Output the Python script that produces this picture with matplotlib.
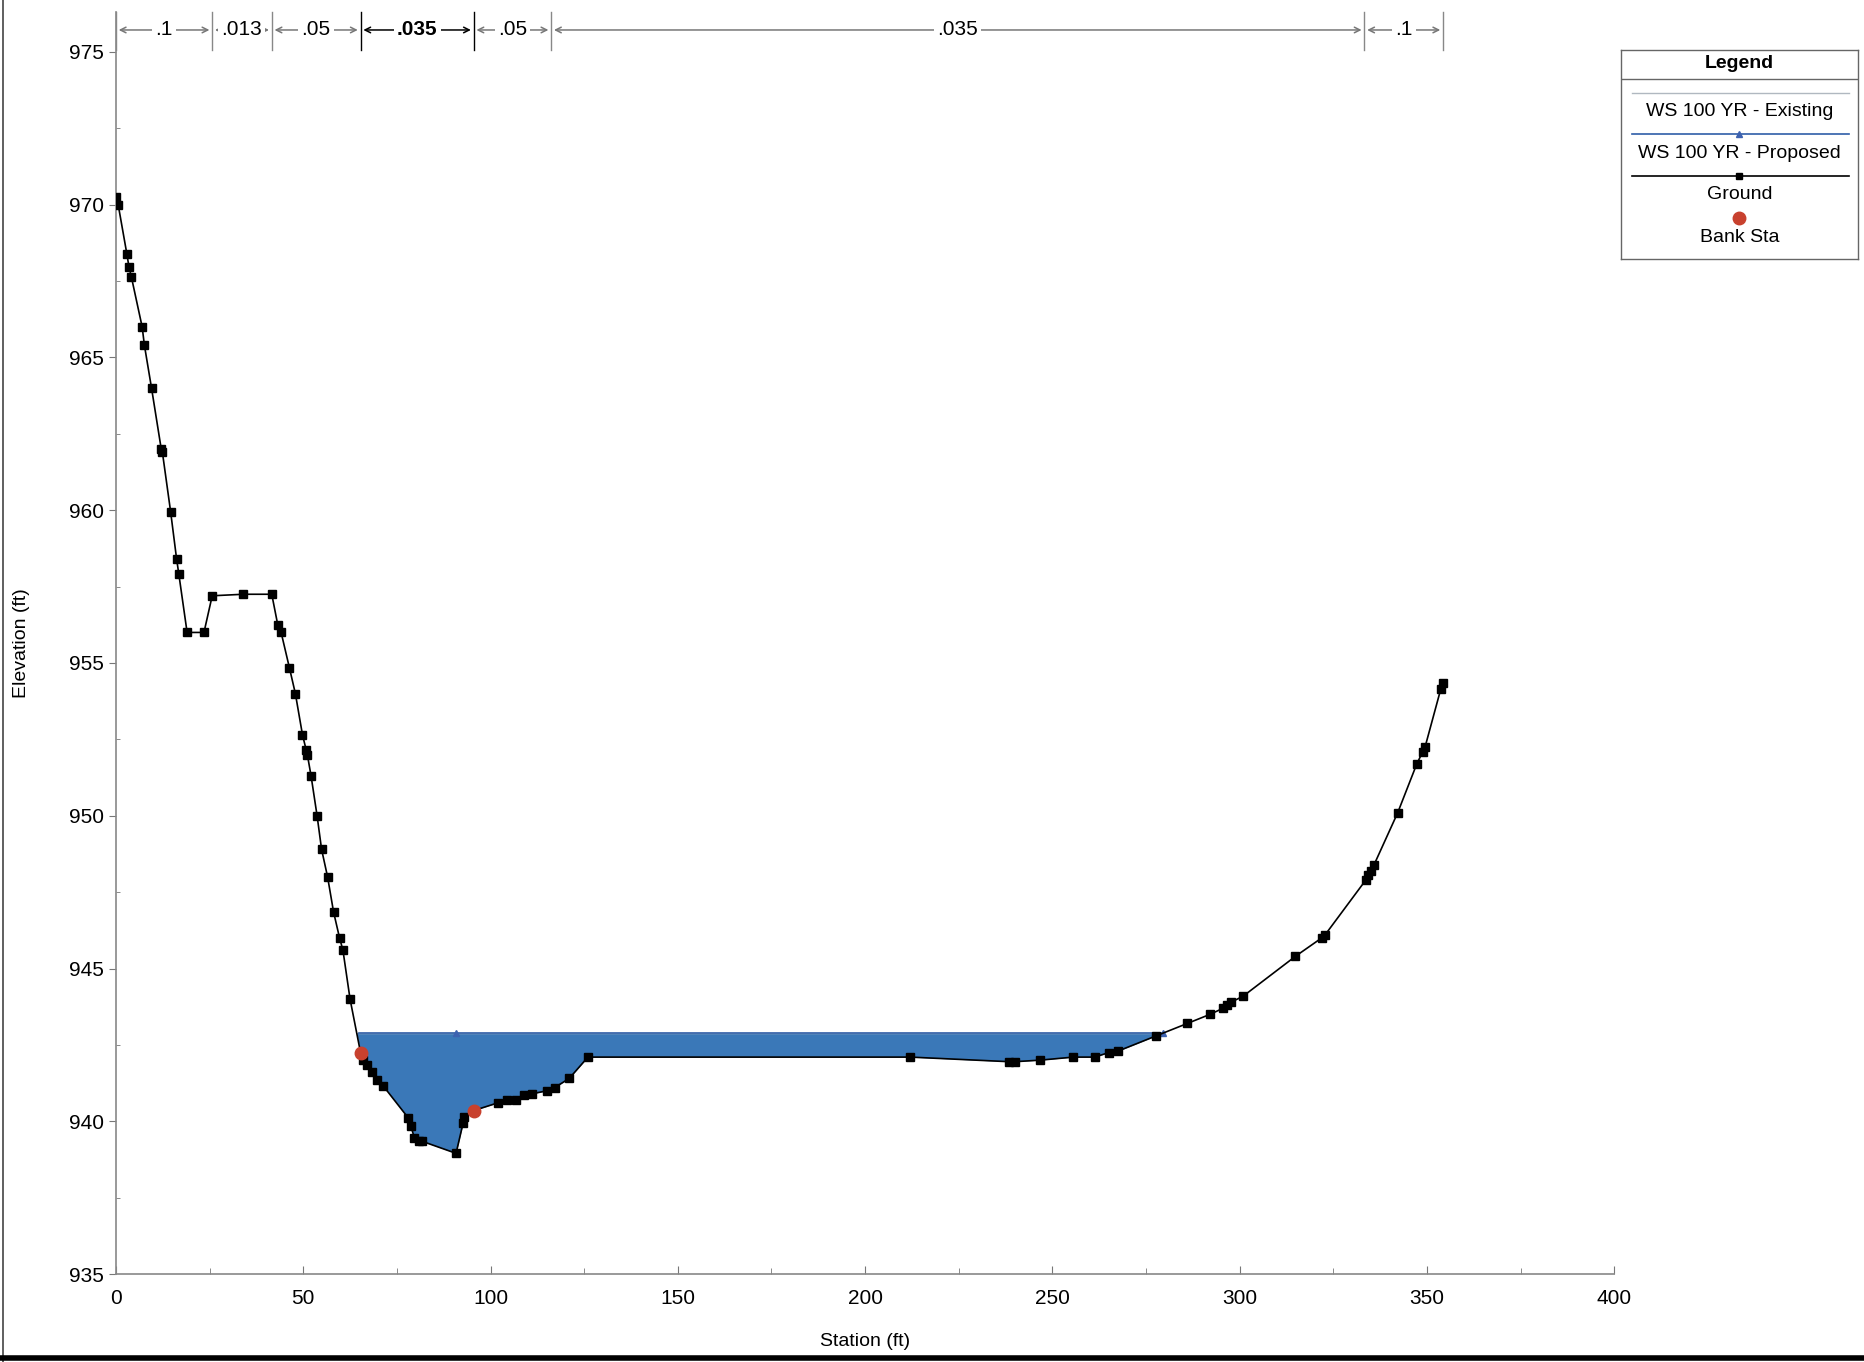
import numpy as np
import matplotlib
matplotlib.use('Agg')
from matplotlib import pyplot as plt
from matplotlib.lines import Line2D

plt.rcParams['font.family'] = ['Liberation Sans', 'DejaVu Sans']

# ground survey points (station ft, elevation ft)
ground_x = [0, 0.6, 2.9, 3.5, 4.1, 7.0, 7.6, 9.5, 12.1, 12.4,
            14.6, 16.2, 16.8, 19.0, 23.5, 25.7, 34.0, 41.6, 43.2, 44.1,
            46.3, 47.9, 49.8, 50.8, 51.1, 52.1, 53.7, 54.9, 56.5, 58.1,
            59.7, 60.6, 62.5, 65.3, 66.0, 67.0, 68.3, 69.8, 71.4, 78.1,
            78.7, 79.7, 80.9, 81.6, 90.8, 92.7, 93.0, 95.5, 101.9, 104.4,
            106.7, 108.9, 111.1, 115.2, 117.1, 121.0, 126.0, 212.1, 238.4, 240.0,
            246.7, 255.6, 261.3, 265.1, 267.6, 277.8, 286.0, 292.1, 295.6, 296.5,
            297.8, 301.0, 314.9, 321.9, 322.8, 333.7, 334.3, 335.0, 335.9, 342.2,
            347.3, 348.9, 349.5, 353.7, 354.3]
ground_y = [970.25, 970.0, 968.4, 967.95, 967.65, 966.0, 965.4, 964.0, 962.0, 961.9,
            959.95, 958.4, 957.9, 956.0, 956.0, 957.2, 957.25, 957.25, 956.25, 956.0,
            954.85, 954.0, 952.65, 952.15, 952.0, 951.3, 950.0, 948.9, 948.0, 946.85,
            946.0, 945.6, 944.0, 942.25, 942.0, 941.85, 941.6, 941.35, 941.15, 940.1,
            939.85, 939.45, 939.35, 939.35, 938.95, 939.95, 940.15, 940.35, 940.6, 940.7,
            940.7, 940.85, 940.9, 941.0, 941.1, 941.4, 942.1, 942.1, 941.95, 941.95,
            942.0, 942.1, 942.1, 942.25, 942.3, 942.8, 943.2, 943.5, 943.7, 943.8,
            943.9, 944.1, 945.4, 946.0, 946.1, 947.9, 948.05, 948.2, 948.4, 950.1,
            951.7, 952.1, 952.25, 954.15, 954.35]

bank_x = [65.3, 95.5]
bank_y = [942.25, 940.35]

ws_elev = 942.9
ws_x = [64.8, 279.5]
ws_marker_x = [90.8, 279.5]

# Manning's n breaks along the top
n_stations = [0, 25.7, 41.6, 65.3, 95.5, 116.2, 333.3, 354.3]
n_values = ['.1', '.013', '.05', '.035', '.05', '.035', '.1']

fig = plt.figure(figsize=(18.64, 13.62), dpi=100)
ax = fig.add_axes([0.0622, 0.0646, 0.8038, 0.9264])

gx = np.array(ground_x)
gy = np.array(ground_y)
ax.fill_between(gx, gy, ws_elev, where=gy <= ws_elev, interpolate=True,
                color='#3a78b8', lw=0, zorder=1)
ax.plot(ws_x, [ws_elev, ws_elev], color='#b0b8c0', lw=1, zorder=2)
ax.plot(ws_x, [ws_elev, ws_elev], color='#2f5ea8', lw=1.2, zorder=3)
ax.plot(ws_marker_x, [ws_elev] * len(ws_marker_x), ls='none', marker='^',
        color='#3d62b0', ms=5, zorder=3)
ax.plot(gx, gy, color='black', lw=1.2, marker='s', ms=5.5, zorder=4)
ax.plot(bank_x, bank_y, ls='none', marker='o', color='#c8412e', ms=9, zorder=5)

ax.set_xlim(0, 400)
ax.set_ylim(935, 976.3)
ax.set_xticks(np.arange(0, 401, 50))
ax.set_xticks(np.arange(0, 401, 25), minor=True)
ax.set_yticks(np.arange(935, 976, 5))
ax.set_yticks(np.arange(935, 976, 2.5), minor=True)
ax.tick_params(axis='x', direction='in', length=6, labelsize=15, color='#777777', pad=11)
ax.tick_params(axis='x', which='minor', direction='in', length=4, color='#777777')
ax.tick_params(axis='y', direction='out', length=5, labelsize=15, color='#777777')
ax.tick_params(axis='y', which='minor', direction='in', length=3, color='#777777')
for side in ['top', 'right']:
    ax.spines[side].set_visible(False)
for side in ['left', 'bottom']:
    ax.spines[side].set_color('#888888')
    ax.spines[side].set_linewidth(1.2)
ax.set_xlabel('Station (ft)', fontsize=14, labelpad=18)
ax.set_ylabel('Elevation (ft)', fontsize=14, labelpad=28)

# n-value annotations
y_txt = 975.72
for i, label in enumerate(n_values):
    x0, x1 = n_stations[i], n_stations[i + 1]
    main = label == '.035' and i == 3
    col = 'black' if main else '#777777'
    ax.annotate('', xy=(x0, y_txt), xytext=((x0 + x1) / 2, y_txt),
                arrowprops=dict(arrowstyle='->', color=col, lw=1.1), annotation_clip=False)
    ax.annotate('', xy=(x1, y_txt), xytext=((x0 + x1) / 2, y_txt),
                arrowprops=dict(arrowstyle='->', color=col, lw=1.1), annotation_clip=False)
    ax.text((x0 + x1) / 2, y_txt, label, ha='center', va='center', fontsize=15,
            fontweight='bold' if main else 'normal', clip_on=False,
            bbox=dict(boxstyle='square,pad=0.15', fc='white', ec='none'))
for j, s in enumerate(n_stations):
    col = 'black' if j in (3, 4) else '#888888'
    ax.plot([s, s], [975.05, 976.3], color=col, lw=1, clip_on=False)

# legend box
lg = fig.add_axes([0.8696, 0.8098, 0.1272, 0.1535])
lg.set_xlim(0, 1)
lg.set_ylim(0, 1)
lg.set_xticks([])
lg.set_yticks([])
for sp in lg.spines.values():
    sp.set_color('#666666')
    sp.set_linewidth(1)
lg.text(0.5, 0.935, 'Legend', ha='center', va='center', fontsize=14, fontweight='bold')
lg.plot([0, 1], [0.86, 0.86], color='#666666', lw=1)
lg.plot([0.045, 0.96], [0.795, 0.795], color='#b0b8c0', lw=1)
lg.text(0.5, 0.705, 'WS 100 YR - Existing', ha='center', va='center', fontsize=14)
lg.plot([0.045, 0.96], [0.6, 0.6], color='#2f5ea8', lw=1.2)
lg.plot([0.5], [0.6], marker='^', color='#3d62b0', ms=4)
lg.text(0.5, 0.505, 'WS 100 YR - Proposed', ha='center', va='center', fontsize=14)
lg.plot([0.045, 0.96], [0.398, 0.398], color='black', lw=1.2)
lg.plot([0.5], [0.398], marker='s', color='black', ms=5)
lg.text(0.5, 0.31, 'Ground', ha='center', va='center', fontsize=14)
lg.plot([0.5], [0.195], marker='o', color='#c8412e', ms=9)
lg.text(0.5, 0.105, 'Bank Sta', ha='center', va='center', fontsize=14)

# scan frame edges
fig.add_artist(Line2D([0.0015, 0.0015], [0, 1], color='#444444', lw=1.2))
fig.add_artist(Line2D([0, 1], [0.003, 0.003], color='black', lw=4))

fig.savefig('out.png', dpi=100, facecolor='white')
